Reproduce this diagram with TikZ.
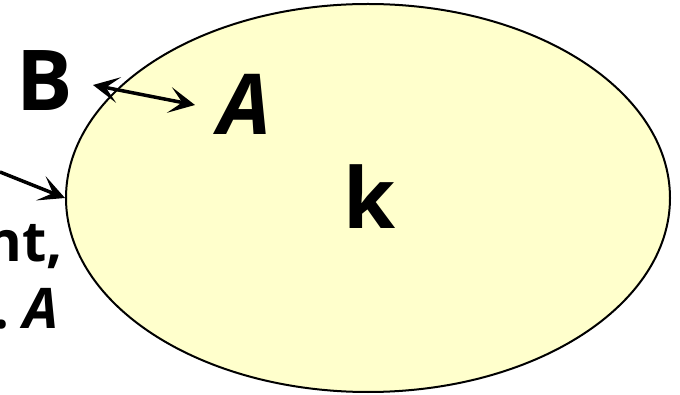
\documentclass[tikz,border=0pt]{standalone}
\usepackage{fontspec}
\setmainfont{Open Sans}
\usetikzlibrary{shapes.geometric,arrows.meta}
\definecolor{paleyellow}{HTML}{FFFFCC}
\tikzset{
  bigtxt/.style={font=\fontsize{84}{90}\selectfont\bfseries, inner sep=0pt},
  smalltxt/.style={font=\fontsize{56}{60}\selectfont\bfseries, inner sep=0pt},
  tip/.style={Stealth[length=26pt,width=26pt,inset=13pt]},
  arr/.style={line width=3.5pt, -{Stealth[length=26pt,width=26pt,inset=13pt]}},
  dblarr/.style={line width=3.5pt, {Stealth[length=26pt,width=26pt,inset=13pt]}-{Stealth[length=26pt,width=26pt,inset=13pt]}}
}
\begin{document}
\begin{tikzpicture}[x=1pt,y=-1pt]
  \useasboundingbox (0,0) rectangle (680,395);
  \clip (0,0) rectangle (680,395);
  % the set k
  \node[ellipse, draw, line width=2pt, fill=paleyellow, inner sep=0pt,
        minimum width=604pt, minimum height=388pt] (ell) at (368,198) {};
  \node[bigtxt] (k) at (370,197) {k};
  \node[bigtxt] (A) at (245,104) {\itshape A};
  \node[bigtxt] (B) at (45,81) {B};
  % caption on the left, running past the edge
  \node[smalltxt, anchor=base east] (cap1) at (63,262) {nt,};
  \node[smalltxt, anchor=base east] (cap2) at (59,328) {.\ \itshape A};
  % connectors
  \coordinate (bEnd) at ([shift={(48,4)}]B.center);
  \coordinate (aEnd) at ([shift={(-50,1)}]A.center);
  \draw[dblarr] (bEnd) -- (aEnd);
  \coordinate (src) at (0,172);
  \draw[arr] (src) -- (ell.west);
\end{tikzpicture}
\end{document}
